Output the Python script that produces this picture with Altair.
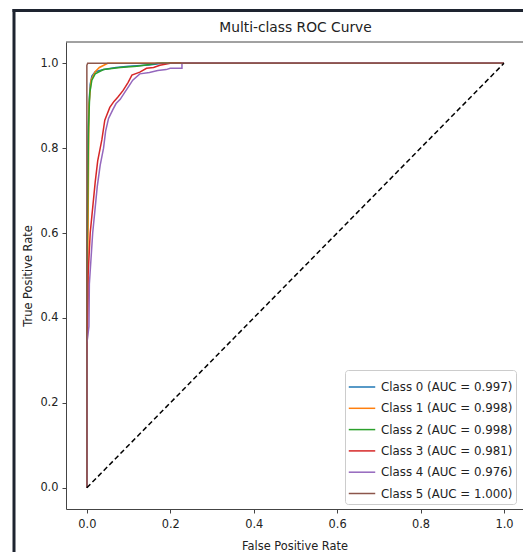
import altair as alt
import pandas as pd

# ---- data ----
class_labels = [
    "Class 0 (AUC = 0.997)",
    "Class 1 (AUC = 0.998)",
    "Class 2 (AUC = 0.998)",
    "Class 3 (AUC = 0.981)",
    "Class 4 (AUC = 0.976)",
    "Class 5 (AUC = 1.000)",
]
colors = ["#1f77b4", "#ff7f0e", "#2ca02c", "#d62728", "#9467bd", "#8c564b"]

fpr_0 = [0, 0, 0.003, 0.005, 0.008, 0.012, 0.02, 0.04, 0.07, 0.10, 0.15, 0.18, 1.0]
tpr_0 = [0, 0.45, 0.82, 0.90, 0.95, 0.97, 0.98, 0.985, 0.99, 0.993, 0.996, 1.0, 1.0]

fpr_1 = [0, 0, 0.003, 0.005, 0.01, 0.02, 0.03, 0.05, 1.0]
tpr_1 = [0, 0.30, 0.62, 0.90, 0.96, 0.98, 0.99, 1.0, 1.0]

fpr_2 = [0, 0, 0.004, 0.007, 0.012, 0.02, 0.04, 0.08, 0.12, 0.17, 1.0]
tpr_2 = [0, 0.50, 0.85, 0.93, 0.96, 0.975, 0.985, 0.99, 0.993, 1.0, 1.0]

fpr_3 = [0, 0, 0.003, 0.003, 0.005, 0.008, 0.012, 0.016, 0.02, 0.026, 0.036, 0.043,
         0.055, 0.065, 0.074, 0.087, 0.099, 0.108, 0.127, 0.143, 0.16, 0.175, 0.20, 1.0]
tpr_3 = [0, 0.30, 0.45, 0.50, 0.54, 0.60, 0.64, 0.68, 0.72, 0.77, 0.82, 0.866,
         0.896, 0.91, 0.92, 0.936, 0.955, 0.972, 0.979, 0.988, 0.99, 0.995, 1.0, 1.0]

fpr_4 = [0, 0, 0.005, 0.006, 0.01, 0.014, 0.02, 0.025, 0.032, 0.04, 0.045, 0.052, 0.062,
         0.07, 0.08, 0.09, 0.10, 0.11, 0.127, 0.15, 0.17, 0.19, 0.20, 0.228, 0.228, 1.0]
tpr_4 = [0, 0.34, 0.38, 0.48, 0.54, 0.60, 0.66, 0.71, 0.76, 0.80, 0.84, 0.87, 0.89,
         0.905, 0.915, 0.93, 0.945, 0.96, 0.975, 0.978, 0.983, 0.985, 0.988, 0.988, 1.0, 1.0]

fpr_5 = [0, 0, 0.002, 1.0]
tpr_5 = [0, 0.995, 1.0, 1.0]

diag_x = [0, 1]
diag_y = [0, 1]

tick_values = [0.0, 0.2, 0.4, 0.6, 0.8, 1.0]
title_text = ["Multi-class ROC Curve"]

# ---- build table ----
fprs = [fpr_0, fpr_1, fpr_2, fpr_3, fpr_4, fpr_5]
tprs = [tpr_0, tpr_1, tpr_2, tpr_3, tpr_4, tpr_5]
rows = []
for lab, fx, ty in zip(class_labels, fprs, tprs):
    for i, (a, b) in enumerate(zip(fx, ty)):
        rows.append({"Class": lab, "fpr": a, "tpr": b, "idx": i})
df = pd.DataFrame(rows)
diag = pd.DataFrame({"fpr": diag_x, "tpr": diag_y})
one = pd.DataFrame({"a": [0]})
title_df = pd.DataFrame({"t": title_text})

FONT = "DejaVu Sans"
W, H = 457, 467

xscale = alt.Scale(domain=[-0.05, 1.0456], nice=False, zero=False)
yscale = alt.Scale(domain=[-0.05, 1.05], nice=False, zero=False)

axis_common = dict(values=tick_values, format=".1f", grid=False, domainColor="#444",
                   tickColor="#444", tickSize=4, labelFont=FONT, labelFontSize=11.4,
                   labelColor="#222", titleFont=FONT, titleFontSize=11.4,
                   titleFontWeight="normal", titleColor="#222")

lines = alt.Chart(df).mark_line(strokeWidth=1.5).encode(
    x=alt.X("fpr:Q", scale=xscale,
            axis=alt.Axis(title="False Positive Rate", labelPadding=5, titlePadding=11,
                          **axis_common)),
    y=alt.Y("tpr:Q", scale=yscale,
            axis=alt.Axis(title="True Positive Rate", labelPadding=4, titlePadding=6,
                          **axis_common)),
    color=alt.Color("Class:N", scale=alt.Scale(domain=class_labels, range=colors),
                    legend=alt.Legend(title=None, orient="none", legendX=279, legendY=328,
                                      symbolType="stroke", symbolStrokeWidth=1.5,
                                      symbolSize=700, labelFont=FONT, labelFontSize=11.8,
                                      labelColor="#222", rowPadding=0.3, padding=3,
                                      strokeColor="#cccccc", fillColor="rgba(255,255,255,0.85)",
                                      cornerRadius=3, labelOffset=5)),
    order="idx:Q",
)

diag_line = alt.Chart(diag).mark_line(color="black", strokeWidth=1.5, strokeDash=[5, 3]).encode(
    x=alt.X("fpr:Q", scale=xscale),
    y=alt.Y("tpr:Q", scale=yscale),
)

top_spine = alt.Chart(one).mark_rule(color="#444", strokeWidth=1).encode(
    x=alt.value(0), x2=alt.value(W), y=alt.value(0)
)
frame_left = alt.Chart(one).mark_rule(color="#1e2430", strokeWidth=3).encode(
    x=alt.value(-52), y=alt.value(-33), y2=alt.value(H + 45)
)
frame_top = alt.Chart(one).mark_rule(color="#1e2430", strokeWidth=3).encode(
    x=alt.value(-53.5), x2=alt.value(W + 5), y=alt.value(-31.5)
)
title_mark = alt.Chart(title_df).mark_text(font=FONT, fontSize=13.8, color="#222",
                                           align="center", baseline="middle").encode(
    text="t:N", x=alt.value(229.5), y=alt.value(-14)
)

chart = alt.layer(lines, diag_line, top_spine, frame_left, frame_top, title_mark).properties(
    width=W, height=H,
    autosize=alt.AutoSizeParams(type="none"),
    padding={"left": 66, "top": 42, "right": 0, "bottom": 43},
    background="white",
).configure_view(stroke=None)

chart.save("out.html", embed_options={"renderer": "svg", "actions": False})
